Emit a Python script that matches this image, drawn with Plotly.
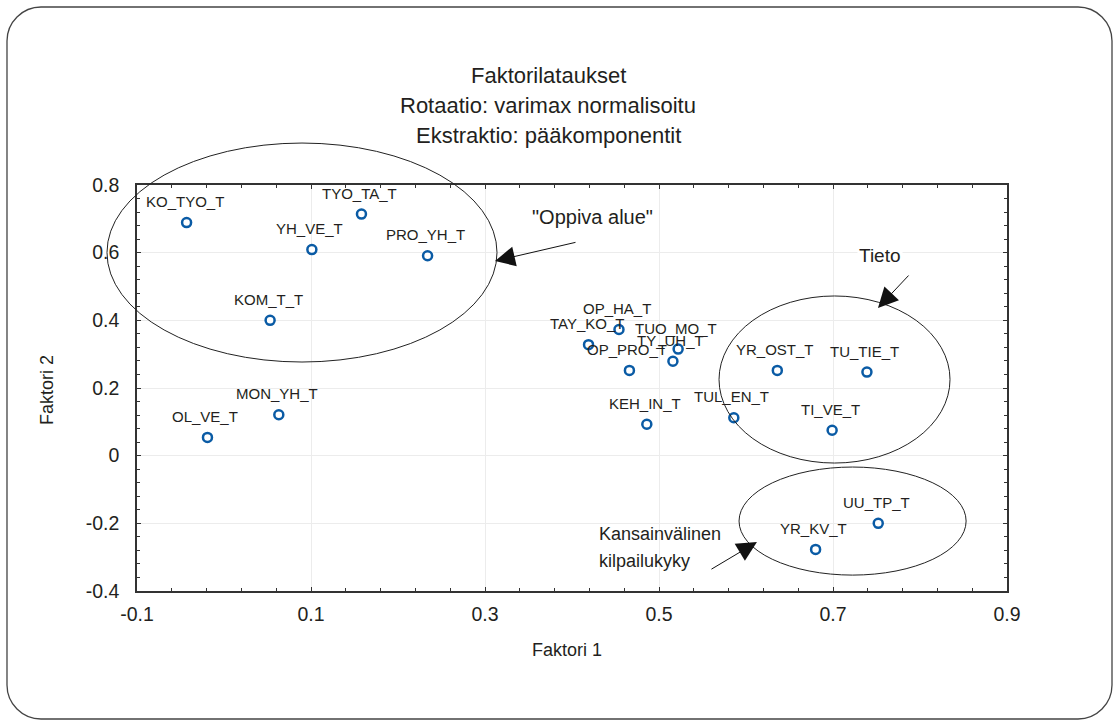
import plotly.graph_objects as go

# ---- data ----
labels = ["KO_TYO_T", "TYO_TA_T", "YH_VE_T", "PRO_YH_T", "KOM_T_T", "MON_YH_T", "OL_VE_T",
          "OP_HA_T", "TAY_KO_T", "TUO_MO_T", "TY_UH_T", "OP_PRO_T", "KEH_IN_T", "TUL_EN_T",
          "YR_OST_T", "TU_TIE_T", "TI_VE_T", "UU_TP_T", "YR_KV_T"]
faktori1 = [-0.043, 0.158, 0.101, 0.234, 0.053, 0.063, -0.019,
            0.454, 0.419, 0.522, 0.516, 0.466, 0.486, 0.586,
            0.636, 0.739, 0.699, 0.752, 0.680]
faktori2 = [0.689, 0.714, 0.609, 0.591, 0.400, 0.121, 0.054,
            0.373, 0.328, 0.315, 0.279, 0.252, 0.093, 0.112,
            0.252, 0.247, 0.075, -0.200, -0.277]

x_ticks = [-0.1, 0.1, 0.3, 0.5, 0.7, 0.9]
x_ticktext = ["-0.1", "0.1", "0.3", "0.5", "0.7", "0.9"]
y_ticks = [-0.4, -0.2, 0.0, 0.2, 0.4, 0.6, 0.8]
y_ticktext = ["-0.4", "-0.2", "0", "0.2", "0.4", "0.6", "0.8"]

title_lines = ["Faktorilataukset", "Rotaatio: varimax normalisoitu", "Ekstraktio: pääkomponentit"]

# ---- layout geometry ----
W, H = 1119, 726
ML, MR, MT, MB = 137, 112, 185, 135
XR = (-0.1, 0.9)
YR = (-0.4, 0.8)
PW = W - ML - MR
PH = H - MT - MB

FONT = "Liberation Sans, Arial, Helvetica, sans-serif"
TXT = "#231f20"
BLUE = "#0a5ba5"


def px_x(px):
    return (px - ML) / PW


def px_y(py):
    return (H - MB - py) / PH


def d_x(x):
    return (x - XR[0]) / (XR[1] - XR[0])


def d_y(y):
    return (y - YR[0]) / (YR[1] - YR[0])


fig = go.Figure()
fig.add_trace(go.Scatter(
    x=faktori1, y=faktori2, mode="markers",
    marker=dict(size=9, color="white", line=dict(color=BLUE, width=2.5)),
    hoverinfo="text", text=labels, showlegend=False, cliponaxis=False,
))

annotations = []
for lab, xv, yv in zip(labels, faktori1, faktori2):
    annotations.append(dict(x=xv, y=yv, xref="x", yref="y", text=lab, showarrow=False,
                            xanchor="center", yanchor="middle", yshift=21, xshift=-2,
                            font=dict(family=FONT, size=15, color=TXT)))

# titles
for i, t in enumerate(title_lines):
    annotations.append(dict(x=px_x(548), y=px_y(75 + 30 * i), xref="paper", yref="paper",
                            text=t, showarrow=False, xanchor="center", yanchor="middle",
                            font=dict(family=FONT, size=22, color=TXT)))

# group labels
annotations.append(dict(x=0.423, y=0.705, xref="x", yref="y", text='"Oppiva alue"', showarrow=False,
                        xanchor="center", yanchor="middle", bgcolor="white",
                        font=dict(family=FONT, size=20, color=TXT)))
annotations.append(dict(x=0.754, y=0.593, xref="x", yref="y", text="Tieto", showarrow=False,
                        xanchor="center", yanchor="middle", bgcolor="white",
                        font=dict(family=FONT, size=19, color=TXT)))
annotations.append(dict(x=0.4287, y=-0.2316, xref="x", yref="y", text="Kansainvälinen", showarrow=False,
                        xanchor="left", yanchor="middle",
                        font=dict(family=FONT, size=18, color=TXT)))
annotations.append(dict(x=0.4287, y=-0.3114, xref="x", yref="y", text="kilpailukyky", showarrow=False,
                        xanchor="left", yanchor="middle",
                        font=dict(family=FONT, size=18, color=TXT)))

# arrows
for (tx, ty, ax, ay) in [(0.3115, 0.5753, 82, -19), (0.7517, 0.4364, 32, -34), (0.6126, -0.2553, -47, 28)]:
    annotations.append(dict(x=tx, y=ty, xref="x", yref="y", ax=ax, ay=ay, text="", showarrow=True,
                            arrowhead=2, arrowsize=4, arrowwidth=1, arrowcolor="#111"))

# axis titles
annotations.append(dict(x=px_x(567), y=px_y(650), xref="paper", yref="paper", text="Faktori 1",
                        showarrow=False, xanchor="center", yanchor="middle",
                        font=dict(family=FONT, size=18, color=TXT)))
annotations.append(dict(x=px_x(47), y=px_y(390), xref="paper", yref="paper", text="Faktori 2",
                        showarrow=False, xanchor="center", yanchor="middle", textangle=-90,
                        font=dict(family=FONT, size=18, color=TXT)))

shapes = []
# ellipses (data coordinates converted to paper so they are not clipped)
for (x0, x1, y0, y1) in [(-0.1345, 0.3138, 0.2768, 0.924), (0.569, 0.8345, -0.0218, 0.472),
                         (0.592, 0.853, -0.353, -0.0336)]:
    shapes.append(dict(type="circle", xref="paper", yref="paper",
                       x0=d_x(x0), x1=d_x(x1), y0=d_y(y0), y1=d_y(y1),
                       line=dict(color="#222", width=1)))

# rounded outer border
L, T, R, B, r = 7, 7, 1112, 719, 34
k = 0.45


def P(px, py):
    return f"{px_x(px):.5f},{px_y(py):.5f}"


path = (f"M {P(L + r, T)} L {P(R - r, T)} C {P(R - r * k, T)} {P(R, T + r * k)} {P(R, T + r)} "
        f"L {P(R, B - r)} C {P(R, B - r * k)} {P(R - r * k, B)} {P(R - r, B)} "
        f"L {P(L + r, B)} C {P(L + r * k, B)} {P(L, B - r * k)} {P(L, B - r)} "
        f"L {P(L, T + r)} C {P(L, T + r * k)} {P(L + r * k, T)} {P(L + r, T)} Z")
shapes.append(dict(type="path", xref="paper", yref="paper", path=path,
                   line=dict(color="#444", width=1.3)))

axis_common = dict(showline=True, linecolor="#333", linewidth=1.5, mirror="ticks",
                   ticks="inside", ticklen=4, tickcolor="#333", showgrid=True,
                   gridcolor="#ececec", gridwidth=1, zeroline=False,
                   tickfont=dict(family=FONT, size=19.5, color=TXT))

fig.update_xaxes(range=list(XR), tickvals=x_ticks, ticktext=x_ticktext, ticklabelstandoff=5,
                 minor=dict(dtick=0.04, tick0=-0.1, ticks="inside", ticklen=3, tickcolor="#333", showgrid=False),
                 **axis_common)
fig.update_yaxes(range=list(YR), tickvals=y_ticks, ticktext=y_ticktext, ticklabelstandoff=12,
                 minor=dict(dtick=0.04, tick0=-0.4, ticks="inside", ticklen=3, tickcolor="#333", showgrid=False),
                 **axis_common)

fig.update_layout(width=W, height=H, autosize=False,
                  margin=dict(l=ML, r=MR, t=MT, b=MB, pad=0),
                  paper_bgcolor="white", plot_bgcolor="white",
                  annotations=annotations, shapes=shapes,
                  font=dict(family=FONT, color=TXT))

fig.write_html("out.html", config={"displayModeBar": False},
               post_script="document.body.style.margin='0px';")
